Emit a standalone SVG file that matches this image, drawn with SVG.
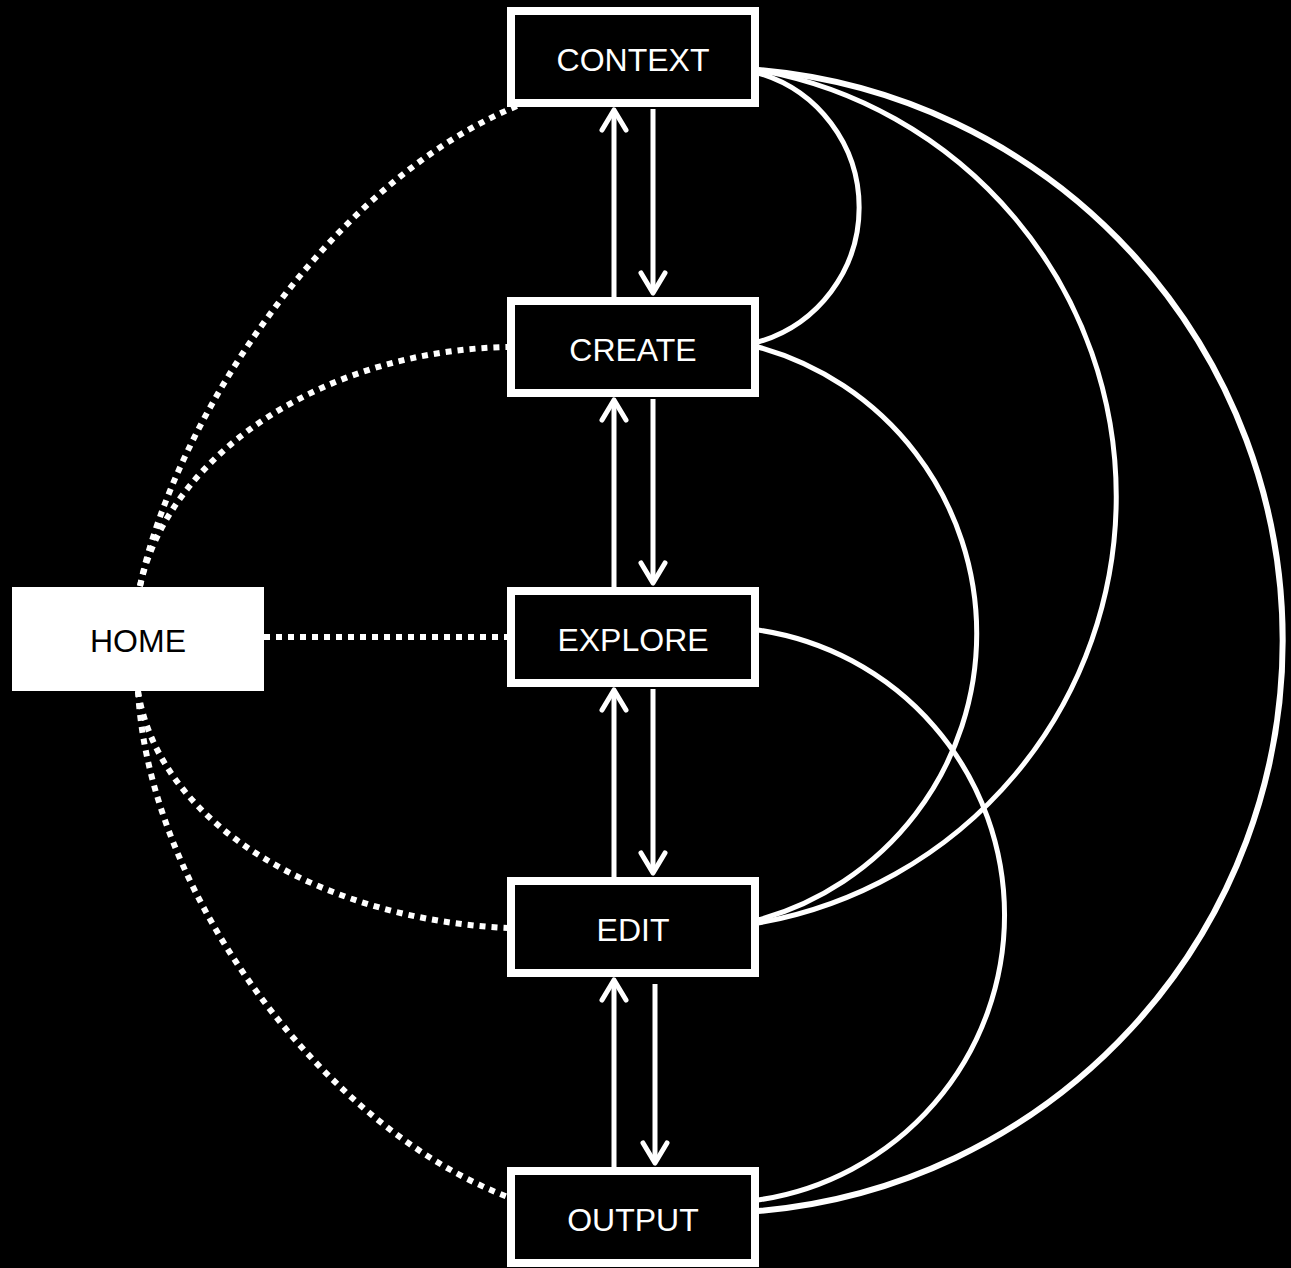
<svg xmlns="http://www.w3.org/2000/svg" width="1291" height="1268" viewBox="0 0 1291 1268">
<defs>
<style>
.box{fill:#000;stroke:#fff;stroke-width:8}
.lbl{font-family:"Liberation Sans",Arial,sans-serif;font-size:32px;fill:#fff;text-anchor:middle}
.arc{fill:none;stroke:#fff;stroke-width:5}
.dot{fill:none;stroke:#fff;stroke-width:6;stroke-dasharray:6 6}
.arr{fill:none;stroke:#fff;stroke-width:5;marker-end:url(#ah)}
</style>
<marker id="ah" markerUnits="userSpaceOnUse" viewBox="-30 -20 40 40" markerWidth="40" markerHeight="40" refX="0" refY="0" orient="auto">
<path d="M-20,-12 L0,0 L-20,12" fill="none" stroke="#fff" stroke-width="5" stroke-linecap="round" stroke-linejoin="round"/>
</marker>
</defs>
<rect width="1291" height="1268" fill="#000"/>
<g id="connectors">
<path class="dot" d="M140,586 C175,420 330,180 522,104"/>
<path class="dot" d="M140,586 C170,450 330,350 508,347"/>
<path class="dot" d="M264,637 L508,637"/>
<path class="dot" d="M138,691 C160,830 330,920 508,928"/>
<path class="dot" d="M138,691 C150,900 330,1130 508,1197"/>
<path class="arc" d="M758,73 A140 140 0 0 1 758,342"/>
<path class="arc" d="M758,70 A433 433 0 0 1 758,923"/>
<path class="arc" style="stroke-width:6" d="M758,70 A572.5 572.5 0 0 1 758,1211"/>
<path class="arc" d="M758,347 A297 297 0 0 1 758,920"/>
<path class="arc" d="M758,630 A288 288 0 0 1 758,1200"/>
<path class="arr" d="M614,297 L614,110"/>
<path class="arr" d="M653,109 L653,293"/>
<path class="arr" d="M614,587 L614,400"/>
<path class="arr" d="M653,399 L653,583"/>
<path class="arr" d="M614,877 L614,690"/>
<path class="arr" d="M653,689 L653,873"/>
<path class="arr" d="M614,1167 L614,980"/>
<path class="arr" d="M655,984 L655,1163"/>
</g>
<g id="context"><rect class="box" x="511" y="11" width="244" height="92"/><text class="lbl" x="633" y="71">CONTEXT</text></g>
<g id="create"><rect class="box" x="511" y="301" width="244" height="92"/><text class="lbl" x="633" y="361">CREATE</text></g>
<g id="explore"><rect class="box" x="511" y="591" width="244" height="92"/><text class="lbl" x="633" y="651">EXPLORE</text></g>
<g id="edit"><rect class="box" x="511" y="881" width="244" height="92"/><text class="lbl" x="633" y="941">EDIT</text></g>
<g id="output"><rect class="box" x="511" y="1171" width="244" height="92"/><text class="lbl" x="633" y="1231">OUTPUT</text></g>
<g id="home"><rect x="12" y="587" width="252" height="104" fill="#fff"/><text class="lbl" x="138" y="652" style="fill:#000">HOME</text></g>
</svg>
